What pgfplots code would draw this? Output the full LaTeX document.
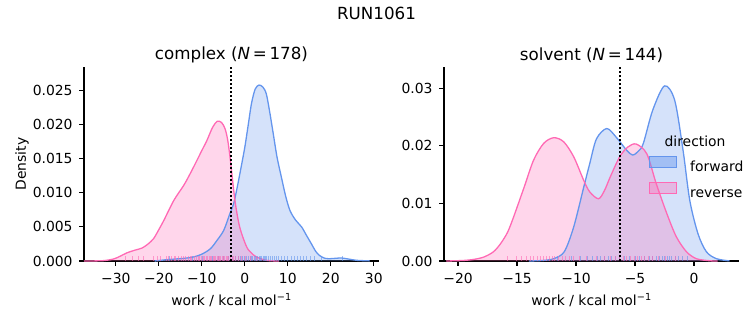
\documentclass[border=0pt]{standalone}
\usepackage{fontspec}
\setmainfont{DejaVu Sans}
\usepackage{pgfplots}
\pgfplotsset{compat=1.18}
\definecolor{fwd}{HTML}{6495ED}
\definecolor{rev}{HTML}{FF69B4}
\newcommand{\tfs}{\fontsize{13.9}{16}\selectfont}
\newcommand{\Tfs}{\fontsize{16.7}{19}\selectfont}
\pgfplotsset{
  kde/.style={
    scale only axis, width=295pt, height=194pt,
    axis x line*=bottom, axis y line*=left,
    axis line style={line width=1.1pt, black},
    tick align=outside, major tick length=4.9pt,
    tick style={line width=1.1pt, black},
    ticklabel style={font=\tfs},
    xticklabel style={yshift=-4pt},
    yticklabel style={xshift=-3pt},
    scaled y ticks=false, scaled x ticks=false,
    label style={font=\tfs},
    title style={font=\Tfs, at={(axis description cs:0.5,1.067)}, anchor=center, yshift=-7pt},
    xlabel={work / kcal mol\textsuperscript{−1}},
    xlabel style={at={(axis description cs:0.5,-0.20)}, anchor=center},
    /pgf/number format/assume math mode=true,
    clip=false,
  },
  fillf/.style={draw=none, fill=fwd, fill opacity=0.27},
  fillr/.style={draw=none, fill=rev, fill opacity=0.27},
  linef/.style={draw=fwd, line width=1.3pt, smooth, tension=0.5, no marks},
  liner/.style={draw=rev, line width=1.3pt, smooth, tension=0.5, no marks},
  rugf/.style={ycomb, no marks, draw=fwd, draw opacity=0.6, line width=0.7pt},
  rugr/.style={ycomb, no marks, draw=rev, draw opacity=0.6, line width=0.7pt},
  vl/.style={black, line width=2pt, dash pattern=on 2pt off 2pt, no marks},
}
\begin{document}
\begin{tikzpicture}
\useasboundingbox (0,0) rectangle (753pt,325pt);
\node[font=\Tfs] at (376.5pt,312pt) {RUN1061};
% ---------------- complex ----------------
\begin{axis}[kde, at={(84pt,64pt)}, anchor=south west,
  xmin=-37.4, xmax=31.2, ymin=0, ymax=0.02845,
  xtick={-30,-20,-10,0,10,20,30},
  xticklabels={−30,−20,−10,0,10,20,30},
  ytick={0,0.005,0.01,0.015,0.02,0.025},
  yticklabels={0.000,0.005,0.010,0.015,0.020,0.025},
  ylabel={Density},
  ylabel style={at={(axis description cs:-0.21,0.5)}, anchor=center, rotate=0},
  title={complex ({\itshape N}\,=\,178)},
]
\addplot[fillf, smooth, tension=0.5] coordinates {
(-21,0)(-18,0.0002)(-14,0.0004)(-11.9,0.0006)(-10,0.0010)(-8,0.0018)(-6.5,0.0030)(-4.9,0.0045)(-3.5,0.0069)(-2.6,0.0084)(-1.9,0.0104)(-1,0.0133)(0,0.0167)(0.8,0.0200)(1.55,0.0231)(2.4,0.0252)(3.3,0.0258)(4.2,0.0255)(5.0,0.0245)(5.8,0.0218)(6.6,0.0187)(7.5,0.0152)(8.5,0.0123)(9.5,0.0095)(10.5,0.0074)(11.8,0.0060)(13.2,0.0050)(14.3,0.0038)(15.5,0.0025)(16.5,0.0014)(17.4,0.0008)(18.6,0.0004)(19.8,0.00034)(21.2,0.0004)(22.5,0.00044)(24,0.0003)(26,0.0001)(29,0.00002)} \closedcycle;
\addplot[fillr, smooth, tension=0.5] coordinates {
(-37.4,0)(-33,0.00005)(-30.5,0.0003)(-29,0.0007)(-27.4,0.0012)(-25.5,0.0016)(-23.9,0.0019)(-22.5,0.0025)(-21.2,0.0033)(-20,0.0046)(-18.8,0.0060)(-16.5,0.0089)(-14.2,0.0111)(-12.8,0.0127)(-11.5,0.0143)(-10,0.0162)(-8.8,0.0177)(-7.5,0.0196)(-6.4,0.0205)(-5.4,0.0203)(-4.6,0.0194)(-4.0,0.0178)(-3.4,0.0150)(-2.3,0.0089)(-1.2,0.0050)(0.4,0.0021)(1.5,0.0012)(2.7,0.0006)(5,0.0001)(8,0)} \closedcycle;
\addplot[linef] coordinates {
(-21,0)(-18,0.0002)(-14,0.0004)(-11.9,0.0006)(-10,0.0010)(-8,0.0018)(-6.5,0.0030)(-4.9,0.0045)(-3.5,0.0069)(-2.6,0.0084)(-1.9,0.0104)(-1,0.0133)(0,0.0167)(0.8,0.0200)(1.55,0.0231)(2.4,0.0252)(3.3,0.0258)(4.2,0.0255)(5.0,0.0245)(5.8,0.0218)(6.6,0.0187)(7.5,0.0152)(8.5,0.0123)(9.5,0.0095)(10.5,0.0074)(11.8,0.0060)(13.2,0.0050)(14.3,0.0038)(15.5,0.0025)(16.5,0.0014)(17.4,0.0008)(18.6,0.0004)(19.8,0.00034)(21.2,0.0004)(22.5,0.00044)(24,0.0003)(26,0.0001)(29,0.00002)};
\addplot[liner] coordinates {
(-37.4,0)(-33,0.00005)(-30.5,0.0003)(-29,0.0007)(-27.4,0.0012)(-25.5,0.0016)(-23.9,0.0019)(-22.5,0.0025)(-21.2,0.0033)(-20,0.0046)(-18.8,0.0060)(-16.5,0.0089)(-14.2,0.0111)(-12.8,0.0127)(-11.5,0.0143)(-10,0.0162)(-8.8,0.0177)(-7.5,0.0196)(-6.4,0.0205)(-5.4,0.0203)(-4.6,0.0194)(-4.0,0.0178)(-3.4,0.0150)(-2.3,0.0089)(-1.2,0.0050)(0.4,0.0021)(1.5,0.0012)(2.7,0.0006)(5,0.0001)(8,0)};
\addplot[rugf] table[x index=0, y expr=0.00072, row sep=\\] {x\\
-17.5\\-12.3\\-9.8\\-7.6\\-6.1\\-4.9\\-3.8\\-2.9\\-2.2\\-1.6\\-1.0\\-0.5\\0.0\\0.4\\0.8\\1.2\\1.5\\1.8\\2.1\\2.4\\2.7\\3.0\\3.3\\3.6\\3.9\\4.2\\4.5\\4.8\\5.1\\5.5\\5.9\\6.3\\6.8\\7.3\\7.9\\8.5\\9.2\\10.0\\10.8\\11.5\\12.2\\12.9\\13.6\\14.4\\15.3\\16.2\\17.8\\22.6\\};
\addplot[rugr] table[x index=0, y expr=0.00072, row sep=\\] {x\\
-27.9\\-26.1\\-24.8\\-23.5\\-21.2\\-20.4\\-19.6\\-18.3\\-17.9\\-17.2\\-16.5\\-16.1\\-15.4\\-14.8\\-14.3\\-13.9\\-13.2\\-12.7\\-12.4\\-11.8\\-11.3\\-10.9\\-10.5\\-10.1\\-9.7\\-9.4\\-9.0\\-8.7\\-8.3\\-8.0\\-7.7\\-7.4\\-7.1\\-6.8\\-6.5\\-6.2\\-5.9\\-5.6\\-5.3\\-5.0\\-4.7\\-4.4\\-4.1\\-3.8\\-3.4\\-3.0\\-2.6\\-2.1\\-1.5\\-0.8\\0.1\\1.2\\2.6\\};
\addplot[vl] coordinates {(-3.26,0)(-3.26,0.02845)};
\end{axis}
% ---------------- solvent ----------------
\begin{axis}[kde, at={(444pt,64pt)}, anchor=south west,
  xmin=-21.19, xmax=3.81, ymin=0, ymax=0.03368,
  xtick={-20,-15,-10,-5,0},
  xticklabels={−20,−15,−10,−5,0},
  ytick={0,0.01,0.02,0.03},
  yticklabels={0.00,0.01,0.02,0.03},
  title={solvent ({\itshape N}\,=\,144)},
  legend style={at={(axis description cs:0.695,0.541)}, anchor=north west,
    draw=none, fill=none, inner sep=0pt, font=\tfs, row sep=11pt,
    nodes={inner sep=0pt, text height=10pt, text depth=0pt},
    /tikz/every odd column/.append style={column sep=13pt}},
  legend cell align=left,
  legend image code/.code={\draw[#1] (0pt,-1pt) rectangle (27pt,9.5pt);},
]
\addplot[fillf, smooth, tension=0.5, forget plot] coordinates {
(-14,0)(-12.8,0.0001)(-11.9,0.0004)(-11.0,0.0016)(-10.2,0.0059)(-9.35,0.0128)(-8.84,0.0169)(-8.27,0.0212)(-7.4,0.0230)(-6.6,0.0215)(-5.7,0.0192)(-5.2,0.0184)(-4.7,0.0191)(-4.3,0.0204)(-3.5,0.0262)(-2.5,0.0304)(-1.64,0.0279)(-0.93,0.0192)(-0.36,0.0105)(0.34,0.0047)(1.05,0.0016)(1.9,0.0004)(3,0.00002)} \closedcycle;
\addplot[fillr, smooth, tension=0.5, forget plot] coordinates {
(-21,0)(-19.5,0.0001)(-18.6,0.0003)(-17.8,0.0007)(-17,0.0016)(-16.4,0.0030)(-15.8,0.0050)(-15.3,0.0076)(-14.4,0.0128)(-13.6,0.0175)(-12.75,0.0204)(-11.9,0.0214)(-11.05,0.0207)(-10.2,0.0181)(-9.35,0.0140)(-8.84,0.0120)(-8.1,0.0108)(-7.6,0.0122)(-7.1,0.0146)(-6.3,0.0181)(-5.6,0.0198)(-4.9,0.0203)(-4.0,0.0186)(-3.2,0.0134)(-2.3,0.0082)(-1.5,0.0042)(-0.64,0.0016)(0.2,0.0004)(1.3,0.00005)(2,0)} \closedcycle;
\addplot[linef, forget plot] coordinates {
(-14,0)(-12.8,0.0001)(-11.9,0.0004)(-11.0,0.0016)(-10.2,0.0059)(-9.35,0.0128)(-8.84,0.0169)(-8.27,0.0212)(-7.4,0.0230)(-6.6,0.0215)(-5.7,0.0192)(-5.2,0.0184)(-4.7,0.0191)(-4.3,0.0204)(-3.5,0.0262)(-2.5,0.0304)(-1.64,0.0279)(-0.93,0.0192)(-0.36,0.0105)(0.34,0.0047)(1.05,0.0016)(1.9,0.0004)(3,0.00002)};
\addplot[liner, forget plot] coordinates {
(-21,0)(-19.5,0.0001)(-18.6,0.0003)(-17.8,0.0007)(-17,0.0016)(-16.4,0.0030)(-15.8,0.0050)(-15.3,0.0076)(-14.4,0.0128)(-13.6,0.0175)(-12.75,0.0204)(-11.9,0.0214)(-11.05,0.0207)(-10.2,0.0181)(-9.35,0.0140)(-8.84,0.0120)(-8.1,0.0108)(-7.6,0.0122)(-7.1,0.0146)(-6.3,0.0181)(-5.6,0.0198)(-4.9,0.0203)(-4.0,0.0186)(-3.2,0.0134)(-2.3,0.0082)(-1.5,0.0042)(-0.64,0.0016)(0.2,0.0004)(1.3,0.00005)(2,0)};
\addplot[rugf, forget plot] table[x index=0, y expr=0.00086, row sep=\\] {x\\
-11.6\\-10.4\\-9.6\\-9.0\\-8.6\\-8.2\\-7.9\\-7.6\\-7.3\\-7.0\\-6.7\\-6.3\\-5.9\\-5.5\\-5.0\\-4.6\\-4.2\\-3.8\\-3.5\\-3.2\\-2.9\\-2.7\\-2.5\\-2.3\\-2.1\\-1.9\\-1.6\\-1.3\\-1.0\\-0.6\\};
\addplot[rugr, forget plot] table[x index=0, y expr=0.00086, row sep=\\] {x\\
-15.8\\-15.1\\-14.6\\-14.2\\-13.9\\-13.6\\-13.3\\-13.0\\-12.8\\-12.5\\-12.3\\-12.0\\-11.8\\-11.5\\-11.2\\-10.9\\-10.6\\-10.2\\-9.7\\-9.1\\-8.3\\-7.6\\-7.1\\-6.7\\-6.3\\-6.0\\-5.7\\-5.4\\-5.1\\-4.8\\-4.5\\-4.2\\-3.9\\-3.5\\-3.0\\-2.4\\-1.6\\};
\addplot[vl, forget plot] coordinates {(-6.30,0)(-6.30,0.03368)};
\addlegendimage{fill=fwd, fill opacity=0.45, draw=fwd, line width=1pt}
\addlegendentry{forward}
\addlegendimage{fill=rev, fill opacity=0.35, draw=rev, line width=1pt}
\addlegendentry{reverse}
\node[font=\tfs, anchor=center] at (axis description cs:0.851,0.619) {direction};
\end{axis}
\end{tikzpicture}
\end{document}
